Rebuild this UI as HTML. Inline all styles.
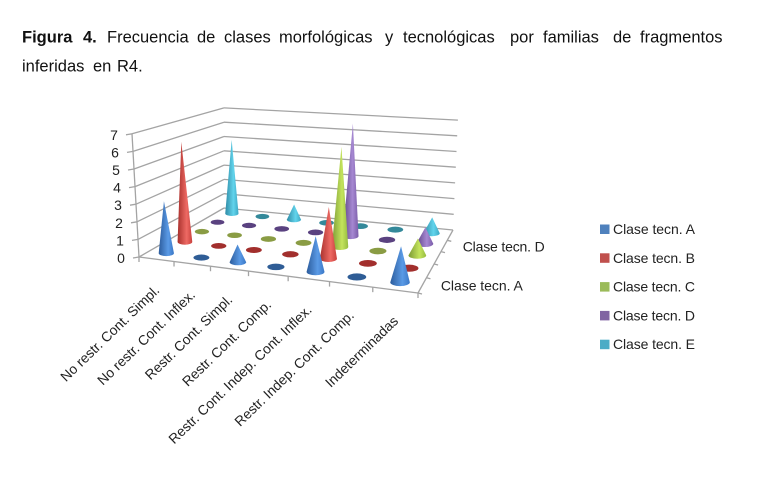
<!DOCTYPE html>
<html lang="es">
<head>
<meta charset="utf-8">
<title>Figura 4</title>
<style>
html,body{margin:0;padding:0;background:#fff;}
#page{position:relative;width:759px;height:502px;overflow:hidden;background:#fff;font-family:"Liberation Sans",sans-serif;}
svg{position:absolute;left:0;top:0;}
svg text{font-family:"Liberation Sans",sans-serif;fill:#222;}
svg text.cap{fill:#111;font-size:16.5px;}
</style>
</head>
<body>
<div id="page">
<svg id="chart" width="759" height="502" viewBox="0 0 759 502" xmlns="http://www.w3.org/2000/svg"><defs id="defs"></defs>
<text class="cap" y="42.5"><tspan x="22" font-weight="bold">Figura</tspan> <tspan x="83" font-weight="bold">4.</tspan> <tspan x="107">Frecuencia</tspan> <tspan x="197">de</tspan> <tspan x="224">clases</tspan> <tspan x="279">morfológicas</tspan> <tspan x="385">y</tspan> <tspan x="403">tecnológicas</tspan> <tspan x="510">por</tspan> <tspan x="543">familias</tspan> <tspan x="613">de</tspan> <tspan x="640">fragmentos</tspan></text>
<text class="cap" y="71.5"><tspan x="22">inferidas</tspan> <tspan x="93">en</tspan> <tspan x="117">R4.</tspan></text>
</svg>
</div>
<script>
const categories = ["No restr. Cont. Simpl.","No restr. Cont. Inflex.","Restr. Cont. Simpl.","Restr. Cont. Comp.","Restr. Cont. Indep. Cont. Inflex.","Restr. Indep. Cont. Comp.","Indeterminadas"];
const seriesNames = ["Clase tecn. A","Clase tecn. B","Clase tecn. C","Clase tecn. D","Clase tecn. E"];
const valuesA = [3,0,1,0,2,0,2];
const valuesB = [6,0,0,0,3,0,0];
const valuesC = [0,0,0,0,6,0,1];
const valuesD = [0,0,0,0,7,0,1];
const valuesE = [5,0,1,0,0,0,1];
const yTicks = [0,1,2,3,4,5,6,7];
const depthLabels = ["Clase tecn. A","","","Clase tecn. D",""];

const seriesValues = [valuesA,valuesB,valuesC,valuesD,valuesE];
const yMax = yTicks[yTicks.length-1];
const palette = [
  {dark:"#2c5c9c",mid:"#5a9ae6",side:"#3b78c6",disc:"#2f5d96",swatch:"#4f81bd"},
  {dark:"#a8302c",mid:"#ee6a64",side:"#c8403c",disc:"#a22f2d",swatch:"#c0504d"},
  {dark:"#7c9a36",mid:"#c4e45c",side:"#96bc40",disc:"#8a9c44",swatch:"#9bbb59"},
  {dark:"#5c4284",mid:"#a688d2",side:"#7a5ca8",disc:"#5a4280",swatch:"#8064a2"},
  {dark:"#2f8ba6",mid:"#62d4ec",side:"#3ca8c4",disc:"#34899a",swatch:"#4bacc6"}
];

/* Perspective frame: floor corners and per-corner unit-height vectors */
const FL=[139,257],FR=[418,293],BR=[453,230],BL=[224,208];
const upFL=[-1,-17.6],upFR=[0.6,-18.4],upBR=[0.7,-15.7],upBL=[0,-14.3];

const dx1=FR[0]-BR[0],dx2=BL[0]-BR[0],dx3=FL[0]-FR[0]+BR[0]-BL[0];
const dy1=FR[1]-BR[1],dy2=BL[1]-BR[1],dy3=FL[1]-FR[1]+BR[1]-BL[1];
const den=dx1*dy2-dx2*dy1;
const hg=(dx3*dy2-dx2*dy3)/den,hh=(dx1*dy3-dy1*dx3)/den;
const ha=FR[0]-FL[0]+hg*FR[0],hb=BL[0]-FL[0]+hh*BL[0],hc=FL[0];
const hd=FR[1]-FL[1]+hg*FR[1],he=BL[1]-FL[1]+hh*BL[1],hf=FL[1];

function floorPt(u,v){
  const w=hg*u+hh*v+1;
  return [(ha*u+hb*v+hc)/w,(hd*u+he*v+hf)/w];
}
function project(u,v,val){
  const p=floorPt(u,v);
  const ux=(1-u)*(1-v)*upFL[0]+u*(1-v)*upFR[0]+u*v*upBR[0]+(1-u)*v*upBL[0];
  const uy=(1-u)*(1-v)*upFL[1]+u*(1-v)*upFR[1]+u*v*upBR[1]+(1-u)*v*upBL[1];
  return [p[0]+ux*val,p[1]+uy*val];
}
const catU=i=>(i+0.5)/categories.length;
const serV=s=>(s+0.5)/seriesNames.length;

const svg=document.getElementById('chart');
const defs=document.getElementById('defs');
const NS='http://www.w3.org/2000/svg';
function mk(tag,attrs,parent){
  const el=document.createElementNS(NS,tag);
  for(const k in attrs)el.setAttribute(k,attrs[k]);
  (parent||svg).appendChild(el);
  return el;
}
function gridLine(a,b,name){
  const el=mk('line',{x1:a[0],y1:a[1],x2:b[0],y2:b[1],stroke:'#a4a4a4','stroke-width':1.3});
  
  
  return el;
}

/* gradients */
palette.forEach((c,s)=>{
  const g=mk('linearGradient',{id:'cone'+s,x1:0,y1:0,x2:1,y2:0},defs);
  mk('stop',{offset:'0',  'stop-color':c.dark},g);
  mk('stop',{offset:'0.62','stop-color':c.mid},g);
  mk('stop',{offset:'1',  'stop-color':c.side},g);
});

/* walls: gridlines */
yTicks.forEach(t=>{
  const a=project(0,0,t),b=project(0,1,t),c=project(1,1,t);
  gridLine(a,b,'left-wall-gridline-'+t);
  gridLine(b,c,'back-wall-gridline-'+t);
  gridLine(a,[a[0]-6,a[1]+1],'y-axis-tick-'+t);
  const lab=mk('text',{x:a[0]-18,y:a[1]+6,'font-size':14,'text-anchor':'middle'});
  lab.textContent=t;
  
  
});
gridLine(project(0,0,0),project(0,0,yMax),'y-axis-line');

/* floor edges and ticks */
gridLine(FL,FR,'category-axis-line');
gridLine(FR,BR,'depth-axis-line');
categories.forEach((c,i)=>{
  const p=floorPt(i/categories.length,0);
  gridLine(p,[p[0],p[1]+5],'category-tick-'+i);
});
gridLine(FR,[FR[0],FR[1]+5],'category-tick-end');
seriesNames.forEach((n,s)=>{
  const p=floorPt(1,s/seriesNames.length);
  gridLine(p,[p[0]+4,p[1]+1],'depth-tick-'+s);
});

/* cones, back to front */
for(let s=seriesNames.length-1;s>=0;s--){
  categories.forEach((cat,i)=>{
    const val=seriesValues[s][i];
    const b=project(catU(i),serV(s),0);
    const l=floorPt(catU(i)-0.5/categories.length,serV(s));
    const r=floorPt(catU(i)+0.5/categories.length,serV(s));
    const rx=Math.hypot(r[0]-l[0],r[1]-l[1])*0.22;
    const ry=rx*0.38;
    let mark;
    if(val===0){
      mark=mk('ellipse',{cx:b[0],cy:b[1],rx:rx,ry:ry,fill:palette[s].disc});
    }else{
      const t=project(catU(i),serV(s),val);
      mark=mk('path',{d:'M'+(b[0]-rx)+' '+b[1]+'L'+t[0]+' '+t[1]+'L'+(b[0]+rx)+' '+b[1]+'A'+rx+' '+ry+' 0 0 1 '+(b[0]-rx)+' '+b[1]+'Z',fill:'url(#cone'+s+')'});
    }
    
    
  });
}

/* category labels */
categories.forEach((c,i)=>{
  const p=floorPt(catU(i),0);
  const x=p[0]+4,y=p[1]+32;
  const lab=mk('text',{x:x,y:y,'font-size':13.8,'text-anchor':'end',transform:'rotate(-44 '+x+' '+y+')'});
  lab.textContent=c;
  
  
});

/* depth labels */
depthLabels.forEach((n,s)=>{
  if(!n)return;
  const p=floorPt(1,serV(s));
  const lab=mk('text',{x:p[0]+18.5,y:p[1]+5.5,'font-size':14,textLength:82,lengthAdjust:'spacing'});
  lab.textContent=n;
  
  
});

/* legend */
seriesNames.forEach((n,s)=>{
  const cy=229+s*28.8;
  const sw=mk('rect',{x:600,y:cy-4.5,width:9.5,height:9.5,fill:palette[s].swatch});
  
  
  const lab=mk('text',{x:613,y:cy+5,'font-size':14,textLength:82,lengthAdjust:'spacing'});
  lab.textContent=n;
  
  
});
</script>
</body>
</html>
